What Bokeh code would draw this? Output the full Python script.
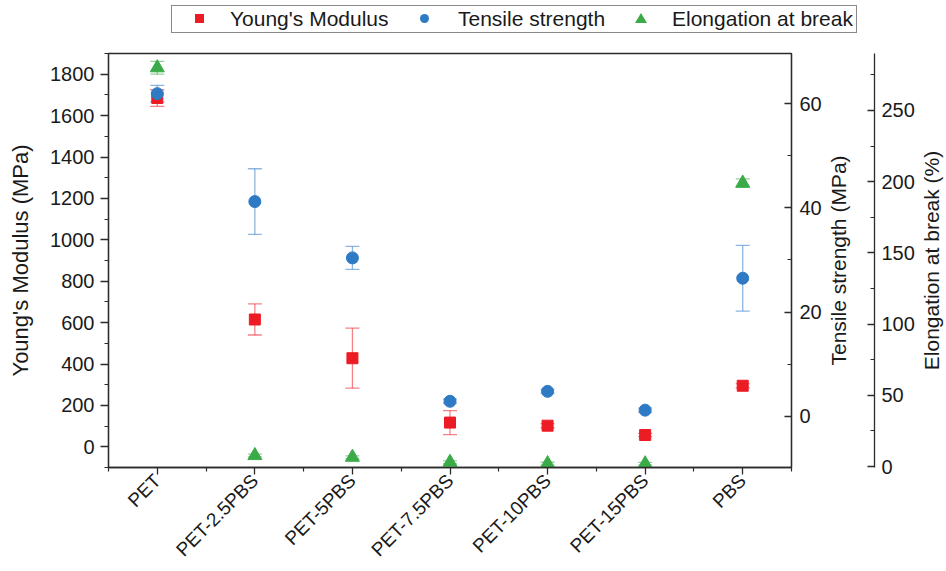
import math
from bokeh.plotting import figure
from bokeh.layouts import column, row
from bokeh.models import (Range1d, LinearAxis, FixedTicker, Whisker, TeeHead,
                          ColumnDataSource, Div)
from bokeh.embed import file_html
from bokeh.resources import INLINE

# ---------------- data ----------------
categories = ["PET", "PET-2.5PBS", "PET-5PBS", "PET-7.5PBS", "PET-10PBS", "PET-15PBS", "PBS"]
youngs_modulus = [1685, 615, 428, 117, 102, 57, 295]
youngs_err = [40, 75, 145, 58, 10, 8, 10]
tensile_strength = [61.9, 41.2, 30.4, 2.9, 4.8, 1.2, 26.5]
tensile_err = [1.6, 6.3, 2.2, 0.4, 0.4, 0.4, 6.3]
elongation = [280, 7.7, 6.5, 3.0, 2.0, 1.9, 199]
elongation_err = [4.5, 1.0, 1.0, 1.0, 1.0, 1.0, 3.0]

series_names = ["Young's Modulus", "Tensile strength", "Elongation at break"]
axis_titles = ["Young's Modulus (MPa)", "Tensile strength (MPa)", "Elongation at break (%)"]
left_ticks = [0, 200, 400, 600, 800, 1000, 1200, 1400, 1600, 1800]
tensile_ticks = [0, 20, 40, 60]
elong_ticks = [0, 50, 100, 150, 200, 250]

FONT = "Liberation Sans"
RED = "#ec1c24"
BLUE = "#2f7ac4"
GREEN = "#3aab48"
AX = "#2b2b2b"
TXT = "#1a1a1a"

YM_RANGE = (-100, 1900)
TS_RANGE = (-9.8, 69.6)
EL_RANGE = (-0.7, 290)

FIG_H = 523
TOP_B = 5
BOT_B = 104

xpos = list(range(len(categories)))

def band(vals, errs):
    return ([v + e for v, e in zip(vals, errs)], [v - e for v, e in zip(vals, errs)])

ym_up, ym_lo = band(youngs_modulus, youngs_err)
ts_up, ts_lo = band(tensile_strength, tensile_err)
el_up, el_lo = band(elongation, elongation_err)

src_ym = ColumnDataSource(dict(x=xpos, y=youngs_modulus, upper=ym_up, lower=ym_lo))
src_ts = ColumnDataSource(dict(x=xpos, y=tensile_strength, upper=ts_up, lower=ts_lo))
src_el = ColumnDataSource(dict(x=xpos, y=elongation, upper=el_up, lower=el_lo))


def style_axis(ax, label_size="20px"):
    ax.axis_line_color = AX
    ax.axis_line_width = 1.3
    ax.major_tick_line_color = AX
    ax.minor_tick_line_color = AX
    ax.major_tick_line_width = 1.3
    ax.minor_tick_line_width = 1.2
    ax.major_label_text_font = FONT
    ax.major_label_text_font_size = label_size
    ax.major_label_text_color = TXT
    ax.axis_label_text_font = FONT
    ax.axis_label_text_font_style = "normal"
    ax.axis_label_text_color = TXT


def label_only_axis(ax, text, standoff):
    """A left axis that shows nothing but its (bottom-to-top) title."""
    ax.ticker = FixedTicker(ticks=[0], minor_ticks=[])
    ax.major_label_overrides = {0: ""}
    ax.axis_line_color = None
    ax.major_tick_line_color = None
    ax.minor_tick_line_color = None
    ax.major_tick_in = 0
    ax.major_tick_out = 0
    ax.minor_tick_in = 0
    ax.minor_tick_out = 0
    ax.major_label_standoff = 0
    ax.major_label_text_font_size = "1px"
    ax.axis_label = text
    ax.axis_label_text_font = FONT
    ax.axis_label_text_font_size = "21px"
    ax.axis_label_text_font_style = "normal"
    ax.axis_label_text_color = TXT
    ax.axis_label_standoff = standoff


# ================= main plot =================
p = figure(width=824, height=FIG_H, output_backend="svg", toolbar_location=None,
           x_range=Range1d(-0.5, 6.5), y_range=Range1d(*YM_RANGE),
           min_border_left=108, min_border_right=32, min_border_top=TOP_B,
           min_border_bottom=BOT_B)
p.grid.visible = False
p.outline_line_color = AX
p.outline_line_width = 1.3
p.background_fill_color = "white"
p.border_fill_color = "white"
p.extra_y_ranges = {"ts": Range1d(*TS_RANGE), "el": Range1d(*EL_RANGE)}


def whisk(src, color, rng=None):
    kw = {}
    if rng:
        kw["y_range_name"] = rng
    w = Whisker(source=src, base="x", upper="upper", lower="lower",
                line_color=color, line_alpha=0.55, line_width=1.3,
                upper_head=TeeHead(size=14, line_color=color, line_alpha=0.55, line_width=1.3),
                lower_head=TeeHead(size=14, line_color=color, line_alpha=0.55, line_width=1.3),
                **kw)
    p.add_layout(w)


whisk(src_ym, RED)
whisk(src_ts, BLUE, "ts")
whisk(src_el, GREEN, "el")

p.scatter("x", "y", source=src_ym, marker="square", size=11,
          fill_color=RED, line_color=RED)
p.scatter("x", "y", source=src_ts, marker="circle", size=12,
          fill_color=BLUE, line_color=BLUE, y_range_name="ts")
p.scatter("x", "y", source=src_el, marker="triangle", size=14,
          fill_color=GREEN, line_color=GREEN, y_range_name="el")

# bottom axis
xa = p.xaxis[0]
style_axis(xa, "19px")
xa.ticker = FixedTicker(ticks=xpos, minor_ticks=[i + 0.5 for i in range(-1, 7)])
xa.major_label_overrides = {i: c for i, c in enumerate(categories)}
xa.major_label_orientation = math.pi / 4
xa.major_tick_in = 0
xa.major_tick_out = 7
xa.minor_tick_in = 0
xa.minor_tick_out = 4
xa.major_label_standoff = 3

# left axis
ya = p.yaxis[0]
style_axis(ya, "20px")
ya.ticker = FixedTicker(ticks=left_ticks, minor_ticks=list(range(-100, 1901, 100)))
ya.axis_label = axis_titles[0]
ya.axis_label_text_font_size = "22px"
ya.axis_label_standoff = 14
ya.major_tick_in = 0
ya.major_tick_out = 8
ya.minor_tick_in = 0
ya.minor_tick_out = 4
ya.major_label_standoff = 6

# right axis: tensile strength (ticks + numbers only)
ax_ts = LinearAxis(y_range_name="ts")
style_axis(ax_ts, "20px")
ax_ts.ticker = FixedTicker(ticks=tensile_ticks, minor_ticks=[-10, 10, 30, 50])
ax_ts.major_tick_in = 7
ax_ts.major_tick_out = 0
ax_ts.minor_tick_in = 4
ax_ts.minor_tick_out = 0
ax_ts.major_label_standoff = 8
p.add_layout(ax_ts, "right")

# ============ strip B: tensile title + elongation axis ============
b = figure(width=92, height=FIG_H, output_backend="svg", toolbar_location=None,
           x_range=Range1d(0, 1), y_range=Range1d(*EL_RANGE),
           x_axis_location=None, min_border_left=48, min_border_right=43,
           min_border_top=TOP_B, min_border_bottom=BOT_B)
b.grid.visible = False
b.outline_line_color = None
b.border_fill_color = "white"
b.background_fill_color = "white"
label_only_axis(b.yaxis[0], axis_titles[1], 24)

ax_el = LinearAxis()
style_axis(ax_el, "20px")
ax_el.ticker = FixedTicker(ticks=elong_ticks, minor_ticks=[25, 75, 125, 175, 225, 275])
ax_el.major_tick_in = 7
ax_el.major_tick_out = 0
ax_el.minor_tick_in = 4
ax_el.minor_tick_out = 0
ax_el.major_label_standoff = 7
b.add_layout(ax_el, "right")

# ============ strip C: elongation title ============
c = figure(width=30, height=FIG_H, output_backend="svg", toolbar_location=None,
           x_range=Range1d(0, 1), y_range=Range1d(*EL_RANGE),
           x_axis_location=None, min_border_left=29, min_border_right=0,
           min_border_top=TOP_B, min_border_bottom=BOT_B)
c.grid.visible = False
c.outline_line_color = None
c.border_fill_color = "white"
c.background_fill_color = "white"
label_only_axis(c.yaxis[0], axis_titles[2], 3)

# ============ legend strip ============
marker_css = [
    f"width:9px;height:9px;background:{RED};",
    f"width:9px;height:9px;border-radius:50%;background:{BLUE};",
    f"width:0;height:0;border-left:6px solid transparent;border-right:6px solid transparent;"
    f"border-bottom:10px solid {GREEN};",
]
marker_left = [195, 420, 635]
marker_top = [14, 14, 13]
label_left = [230, 458, 672]

parts = [f'<div style="position:relative;width:946px;height:48px;'
         f"font-family:'{FONT}',Arial,sans-serif;font-size:21px;color:{TXT};\">",
         '<div style="position:absolute;left:171px;top:5px;width:686px;height:28px;'
         'border:1px solid #8a8a8a;box-sizing:border-box;background:white;"></div>']
for name, css, ml, mt, ll in zip(series_names, marker_css, marker_left, marker_top, label_left):
    parts.append(f'<div style="position:absolute;left:{ml}px;top:{mt}px;{css}"></div>')
    parts.append(f'<div style="position:absolute;left:{ll}px;top:5px;height:28px;'
                 f'line-height:28px;white-space:nowrap;">{name}</div>')
parts.append("</div>")
legend_div = Div(text="".join(parts), width=946, height=48, margin=(0, 0, 0, 0))

layout = column(legend_div, row(p, b, c, spacing=0), spacing=0)
open("out.html", "w").write(file_html(layout, INLINE))
